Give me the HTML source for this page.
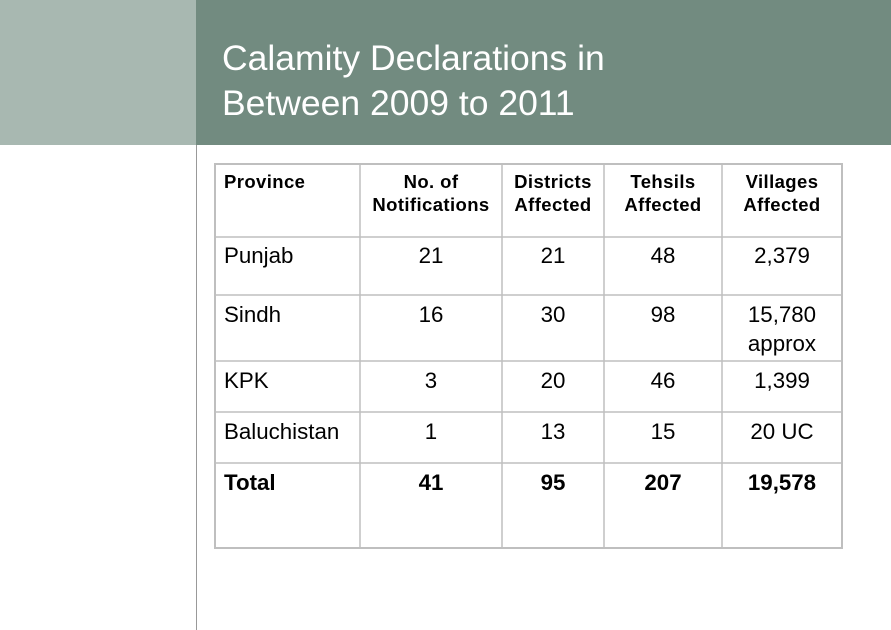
<!DOCTYPE html>
<html><head><meta charset="utf-8"><style>
body{margin:0;width:891px;height:630px;position:relative;overflow:hidden;background:#fff;font-family:"Liberation Sans",Arial,sans-serif;}
.a{position:absolute;}
.t{position:absolute;color:#000;white-space:nowrap;}
.h{font-weight:bold;font-size:18.5px;letter-spacing:0.4px;line-height:23px;text-align:center;}
.b{font-size:22.3px;line-height:29px;text-align:center;}
</style></head><body>
<div class="a" style="left:0;top:0;width:196px;height:145px;background:#a8b8b1"></div>
<div class="a" style="left:196px;top:0;width:695px;height:145px;background:#728b80"></div>
<div class="a" style="left:196px;top:145px;width:1px;height:485px;background:#999"></div>
<div class="t" style="left:222px;top:36px;color:#fff;font-size:35.5px;line-height:45px;">Calamity Declarations in<br>Between 2009 to 2011</div>
<svg class="a" style="left:0;top:0" width="891" height="630">
<g stroke="#bfbfbf" stroke-width="1.5" fill="none">
<rect x="215" y="164" width="627" height="384" stroke-width="2"/>
<line x1="360" y1="164" x2="360" y2="548"/><line x1="502" y1="164" x2="502" y2="548"/>
<line x1="604" y1="164" x2="604" y2="548"/><line x1="722" y1="164" x2="722" y2="548"/>
<line x1="215" y1="237" x2="842" y2="237"/><line x1="215" y1="295" x2="842" y2="295"/>
<line x1="215" y1="361" x2="842" y2="361"/><line x1="215" y1="412" x2="842" y2="412"/>
<line x1="215" y1="463" x2="842" y2="463"/>
</g></svg>
<div class="t h" style="left:224px;top:170px;text-align:left">Province</div>
<div class="t h" style="left:360px;width:142px;top:170px">No. of<br>Notifications</div>
<div class="t h" style="left:502px;width:102px;top:170px">Districts<br>Affected</div>
<div class="t h" style="left:604px;width:118px;top:170px">Tehsils<br>Affected</div>
<div class="t h" style="left:722px;width:120px;top:170px">Villages<br>Affected</div>

<div class="t b" style="left:224px;top:241px;text-align:left">Punjab</div>
<div class="t b" style="left:360px;width:142px;top:241px">21</div>
<div class="t b" style="left:502px;width:102px;top:241px">21</div>
<div class="t b" style="left:604px;width:118px;top:241px">48</div>
<div class="t b" style="left:722px;width:120px;top:241px">2,379</div>

<div class="t b" style="left:224px;top:300px;text-align:left">Sindh</div>
<div class="t b" style="left:360px;width:142px;top:300px">16</div>
<div class="t b" style="left:502px;width:102px;top:300px">30</div>
<div class="t b" style="left:604px;width:118px;top:300px">98</div>
<div class="t b" style="left:722px;width:120px;top:300px">15,780<br>approx</div>

<div class="t b" style="left:224px;top:366px;text-align:left">KPK</div>
<div class="t b" style="left:360px;width:142px;top:366px">3</div>
<div class="t b" style="left:502px;width:102px;top:366px">20</div>
<div class="t b" style="left:604px;width:118px;top:366px">46</div>
<div class="t b" style="left:722px;width:120px;top:366px">1,399</div>

<div class="t b" style="left:224px;top:417px;text-align:left">Baluchistan</div>
<div class="t b" style="left:360px;width:142px;top:417px">1</div>
<div class="t b" style="left:502px;width:102px;top:417px">13</div>
<div class="t b" style="left:604px;width:118px;top:417px">15</div>
<div class="t b" style="left:722px;width:120px;top:417px">20 UC</div>

<div class="t b" style="left:224px;top:468px;text-align:left;font-weight:bold">Total</div>
<div class="t b" style="left:360px;width:142px;top:468px;font-weight:bold">41</div>
<div class="t b" style="left:502px;width:102px;top:468px;font-weight:bold">95</div>
<div class="t b" style="left:604px;width:118px;top:468px;font-weight:bold">207</div>
<div class="t b" style="left:722px;width:120px;top:468px;font-weight:bold">19,578</div>
</body></html>
